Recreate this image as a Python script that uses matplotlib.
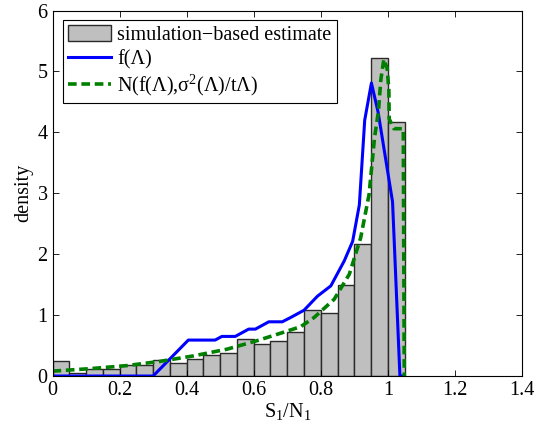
import matplotlib
matplotlib.use("Agg")
import matplotlib.pyplot as plt
import numpy as np

plt.rcParams['font.family'] = ['Liberation Serif', 'DejaVu Serif']
plt.rcParams['mathtext.fontset'] = 'custom'
plt.rcParams['mathtext.rm'] = 'Liberation Serif'
plt.rcParams['mathtext.it'] = 'Liberation Serif'

bin_left = [0.00, 0.05, 0.10, 0.15, 0.20, 0.25, 0.30, 0.35, 0.40, 0.45, 0.50,
            0.55, 0.60, 0.65, 0.70, 0.75, 0.80, 0.85, 0.90, 0.95, 1.00]
bin_height = [0.25, 0.05, 0.11, 0.11, 0.18, 0.18, 0.27, 0.22, 0.28, 0.34, 0.38,
              0.60, 0.52, 0.58, 0.72, 1.08, 1.04, 1.49, 2.17, 5.22, 4.17]
bin_width = 0.05

f_x = [0, 0.30, 0.405, 0.485, 0.505, 0.545, 0.585, 0.605, 0.645, 0.685, 0.71,
       0.75, 0.79, 0.83, 0.87, 0.895, 0.915, 0.931, 0.951, 0.971, 1.014, 1.036, 1.048]
f_y = [0, 0, 0.59, 0.59, 0.65, 0.65, 0.77, 0.77, 0.89, 0.89, 0.96,
       1.08, 1.31, 1.48, 1.89, 2.21, 2.81, 4.2, 4.81, 4.33, 2.86, 0, 0]

n_x = [0, 0.11, 0.22, 0.32, 0.42, 0.52, 0.61, 0.69, 0.74, 0.78, 0.84, 0.885,
       0.919, 0.944, 0.96, 0.972, 0.979, 0.988, 0.998, 1.003, 1.004, 1.018, 1.046, 1.049]
n_y = [0.08, 0.12, 0.17, 0.24, 0.33, 0.44, 0.58, 0.72, 0.81, 0.96, 1.26, 1.67,
       2.27, 2.98, 3.9, 4.35, 4.86, 5.2, 5.05, 4.7, 4.22, 4.06, 4.06, 0]

fig = plt.figure(figsize=(5.43, 4.29), dpi=100)
ax = fig.add_axes([0.0967, 0.1235, 0.8646, 0.852])

bars = ax.bar(bin_left, bin_height, width=bin_width, align='edge', color='#bfbfbf',
              edgecolor='#2a2a2a', linewidth=1.0, label='simulation\u2212based estimate')
l1, = ax.plot(f_x, f_y, color='#0000ff', linewidth=2.2, label='f(\u039b)')
l2, = ax.plot(n_x, n_y, color='#008000', linewidth=2.6, linestyle=(0, (2.4, 1.3)),
              label='N(f(\u039b),\u03c3$^{2}$(\u039b)/t\u039b)')

ax.set_xlim(0, 1.4)
ax.set_ylim(0, 6)
ax.set_xticks([0, 0.2, 0.4, 0.6, 0.8, 1.0, 1.2, 1.4])
ax.set_xticklabels(['0', '0.2', '0.4', '0.6', '0.8', '1', '1.2', '1.4'])
ax.set_yticks([0, 1, 2, 3, 4, 5, 6])
ax.tick_params(direction='in', top=True, right=True, labelsize=14.5, length=4, width=0.6)
for s in ax.spines.values():
    s.set_linewidth(0.8)

ax.set_xlabel(r'S$_1$/N$_1$', fontsize=14.5, labelpad=1)
ax.set_ylabel('density', fontsize=14.5, labelpad=3)

leg = ax.legend([bars, l1, l2], [bars.get_label(), l1.get_label(), l2.get_label()],
                loc='upper left', bbox_to_anchor=(0.0224, 0.974), borderaxespad=0,
                fontsize=14.5, fancybox=False, edgecolor='black', framealpha=1,
                handlelength=2.15, handleheight=0.85, handletextpad=0.3,
                labelspacing=0.2, borderpad=0.25)
leg.get_frame().set_linewidth(0.8)

fig.savefig('out.png', dpi=100)
